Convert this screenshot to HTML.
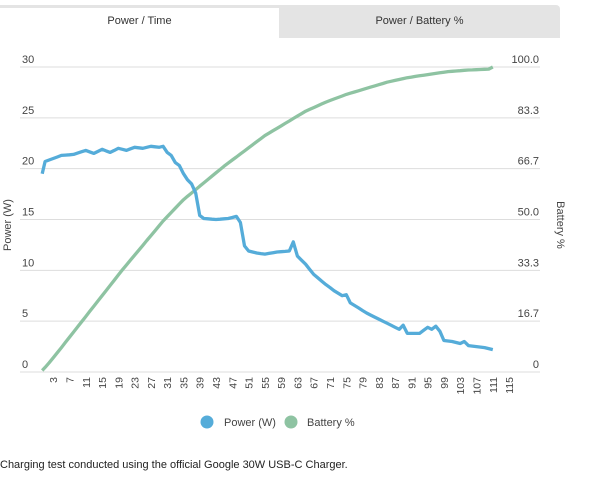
<!DOCTYPE html>
<html><head><meta charset="utf-8"><style>
body{margin:0;width:600px;height:481px;background:#fff;font-family:"Liberation Sans",sans-serif;overflow:hidden;position:relative}
.t{position:absolute;font-size:11px;color:#333}
</style></head><body>
<div style="position:absolute;left:0;top:5px;width:560px;height:33px;background:#e4e4e4;border-radius:0 4px 0 0"></div>
<div style="position:absolute;left:0;top:8px;width:279px;height:30px;background:#fff"></div>
<div class="t" style="left:0;width:279px;top:15px;text-align:center;font-size:11px">Power / Time</div>
<div class="t" style="left:279px;width:281px;top:15px;text-align:center;font-size:11px">Power / Battery %</div>
<svg id="s" width="600" height="481" style="position:absolute;left:0;top:0" font-family="Liberation Sans, sans-serif"></svg>
<div class="t" style="left:0;top:459px;font-size:11px;color:#222">Charging test conducted using the official Google 30W USB-C Charger.</div>
<script>
var s=document.getElementById('s'),h='';
function Y(w){return 372-w*10.167}
var yl=['0','16.7','33.3','50.0','66.7','83.3','100.0'];
for(var i=0;i<=6;i++){var y=Y(i*5);
h+='<line x1="20" x2="540" y1="'+y+'" y2="'+y+'" stroke="#ddd"/>';
h+='<text x="22" y="'+(y-4)+'" font-size="11" fill="#444">'+i*5+'</text>';
h+='<text x="539" y="'+(y-4)+'" font-size="11" fill="#444" text-anchor="end">'+yl[i]+'</text>';}
function X(i){return 41+i*4.07}
for(var i=3;i<=115;i+=4){h+='<text transform="translate('+(X(i)+4)+',377) rotate(-90)" font-size="10.5" fill="#444" text-anchor="end">'+i+'</text>';}
h+='<text transform="translate(11,225) rotate(-90)" font-size="11" fill="#444" text-anchor="middle">Power (W)</text>';
h+='<text transform="translate(557,225) rotate(90)" font-size="11" fill="#444" text-anchor="middle">Battery %</text>';
function interp(k){var o=[];for(var j=0;j<k.length-1;j++){var a=k[j],b=k[j+1];for(var i=a[0];i<b[0];i++){o.push([i,a[1]+(b[1]-a[1])*(i-a[0])/(b[0]-a[0])]);}}o.push(k[k.length-1]);return o}
var P=interp([[0.3,19.5],[1,20.7],[3,21],[5,21.3],[8,21.4],[11,21.8],[13,21.5],[15,21.9],[17,21.6],[19,22],[21,21.8],[23,22.1],[25,22],[27,22.2],[29,22.1],[30,22.2],[31,21.6],[32,21.3],[33,20.6],[34,20.3],[35,19.5],[36,18.9],[37,18.5],[38,17.6],[39,15.4],[40,15.1],[43,15],[46,15.1],[48,15.3],[49,14.7],[50,12.4],[51,11.9],[53,11.7],[55,11.6],[58,11.8],[61,11.9],[62,12.8],[63,11.4],[65,10.6],[67,9.6],[70,8.6],[72,8.0],[74,7.5],[75,7.6],[76,6.8],[78,6.3],[80,5.8],[83,5.2],[86,4.6],[88,4.2],[89,4.6],[90,3.8],[93,3.8],[95,4.4],[96,4.2],[97,4.5],[98,4.0],[99,3.1],[101,3.0],[103,2.8],[104,3.0],[105,2.6],[107,2.5],[109,2.4],[111,2.2]]);
var B=interp([[0.3,0.5],[1,1.5],[2,3],[5,8],[10,16.5],[15,25],[20,33.5],[25,41.5],[30,49.5],[35,56.5],[40,62],[45,67.5],[50,72.5],[55,77.5],[60,81.5],[65,85.5],[70,88.5],[75,91],[80,93],[85,95],[90,96.5],[95,97.5],[100,98.5],[105,99],[110,99.3],[111,100]]);
function pl(d,c,f){return '<polyline fill="none" stroke="'+c+'" stroke-width="3.3" stroke-linejoin="round" points="'+d.map(function(p){return X(p[0]).toFixed(1)+','+Y(f(p[1])).toFixed(1)}).join(' ')+'"/>'}
h+=pl(B,'#8ec3a2',function(v){return v*0.3});
h+=pl(P,'#55acd9',function(v){return v});
h+='<circle cx="207" cy="422" r="6.5" fill="#55acd9"/><text x="224" y="426" font-size="11" fill="#444">Power (W)</text>';
h+='<circle cx="291" cy="422" r="6.5" fill="#8ec3a2"/><text x="307" y="426" font-size="11" fill="#444">Battery %</text>';
s.innerHTML=h;
</script>
</body></html>
